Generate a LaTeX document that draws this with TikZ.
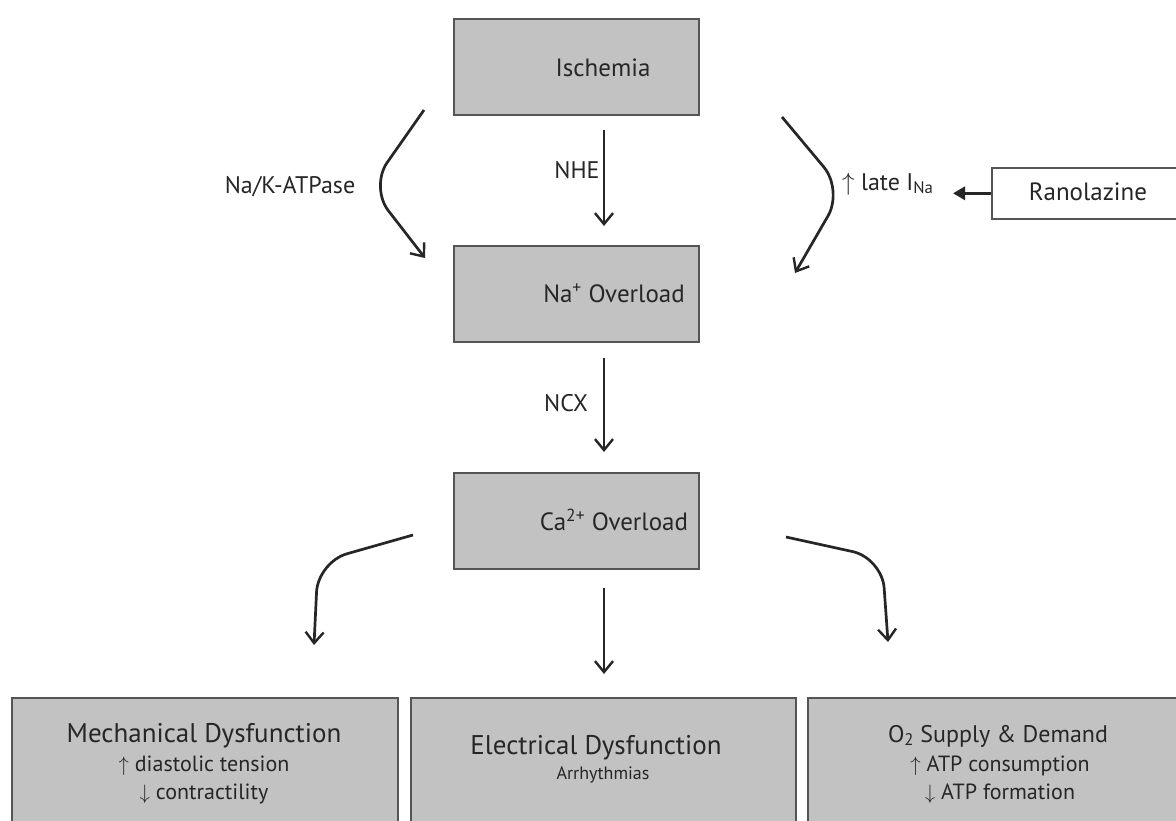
\documentclass[tikz,border=0pt]{standalone}
\usepackage{fontspec}
\setmainfont{PT Sans}
\usetikzlibrary{arrows.meta,calc}
\definecolor{boxfill}{HTML}{C2C2C2}
\definecolor{boxline}{HTML}{555555}
\definecolor{txt}{HTML}{262626}
\begin{document}
\begin{tikzpicture}[x=1pt,y=-1pt,
  gbox/.style={draw=boxline,fill=boxfill,line width=2pt,anchor=north west,inner sep=0pt},
  boxtxt/.style={text=txt,inner sep=0pt,font=\fontsize{25}{30}\selectfont},
  ttl/.style={text=txt,inner sep=0pt,anchor=base},
  lbl/.style={text=txt,font=\fontsize{24}{28}\selectfont},
  flow/.style={line width=2.7pt,draw=black!85,-{Straight Barb[length=11pt,width=18pt,line width=2.4pt]}},
  curvy/.style={flow,rounded corners=30pt}]
\useasboundingbox (0,0) rectangle (1176,821);
\clip (0,0) rectangle (1176,821);
\fill[white] (0,0) rectangle (1176,821);
% main boxes
\node[gbox,minimum width=245pt,minimum height=96pt] (isch) at (453,18) {};
\node[gbox,minimum width=245pt,minimum height=96pt] (na) at (453,245) {};
\node[gbox,minimum width=245pt,minimum height=96pt] (ca) at (453,472) {};
\node[boxtxt] (ischt) at (603,68) {Ischemia};
\node[boxtxt] (nat) at (614,293) {Na\textsuperscript{+} Overload};
\node[boxtxt] (cat) at (614,520) {Ca\textsuperscript{2+} Overload};
% ranolazine
\node[draw=boxline,fill=white,line width=1.6pt,anchor=north west,minimum width=200pt,minimum height=51pt,inner sep=0pt] (rano) at (991,167) {};
\node[boxtxt] (ranot) at (1088,192) {Ranolazine};
% bottom boxes
\node[gbox,minimum width=386pt,minimum height=135pt] (mech) at (11,697) {};
\node[gbox,minimum width=385pt,minimum height=135pt] (elec) at (410,697) {};
\node[gbox,minimum width=380pt,minimum height=135pt] (oxy) at (807,697) {};
\node[ttl,font=\fontsize{27}{30}\selectfont] (mech1) at (204,742) {Mechanical Dysfunction};
\node[ttl,font=\fontsize{22}{26}\selectfont] (mech2) at (204,771) {$\uparrow$ diastolic tension};
\node[ttl,font=\fontsize{22}{26}\selectfont] (mech3) at (204,799) {$\downarrow$ contractility};
\node[ttl,font=\fontsize{27}{30}\selectfont] (elec1) at (596,754) {Electrical Dysfunction};
\node[ttl,font=\fontsize{18}{22}\selectfont] (elec2) at (603,779) {Arrhythmias};
\node[ttl,font=\fontsize{24}{30}\selectfont] (oxy1) at (998,742) {O\textsubscript{2} Supply \& Demand};
\node[ttl,font=\fontsize{22}{26}\selectfont] (oxy2) at (1000,771) {$\uparrow$ ATP consumption};
\node[ttl,font=\fontsize{22}{26}\selectfont] (oxy3) at (1000,799) {$\downarrow$ ATP formation};
% labels
\node[lbl] (nhe) at (577,170) {NHE};
\node[lbl] (ncx) at (566,403) {NCX};
\node[lbl] (nak) at (290,187) {Na/K-ATPase};
\node[lbl,anchor=west,inner sep=0pt] (late) at (842,184) {$\uparrow$ late I\textsubscript{Na}};
% coordinates
\coordinate (nakS) at (424,110);
\coordinate (nakM) at (370,187);
\coordinate (nakE) at (425,258);
\coordinate (lateS) at (782,117);
\coordinate (lateM) at (843,190);
\coordinate (lateE) at (795,273);
\coordinate (clS) at (413,535);
\coordinate (clM) at (318,562);
\coordinate (clE) at (314,645);
\coordinate (crS) at (786,537);
\coordinate (crM) at (882,558);
\coordinate (crE) at (888,642);
\coordinate (nheS) at (604,130);
\coordinate (nheE) at (604,226);
\coordinate (ncxS) at (604,358);
\coordinate (ncxE) at (604,452);
\coordinate (cmS) at (604,588);
\coordinate (cmE) at (604,674);
% arrows
\draw[flow] (nheS) -- (nheE);
\draw[flow] (ncxS) -- (ncxE);
\draw[flow] (cmS) -- (cmE);
\draw[curvy] (nakS) -- (nakM) -- (nakE);
\draw[curvy] (lateS) -- (lateM) -- (lateE);
\draw[curvy] (clS) -- (clM) -- (clE);
\draw[curvy] (crS) -- (crM) -- (crE);
\draw[line width=3.2pt,draw=black!85,-{Triangle[length=12pt,width=13pt]}] (rano.west) -- ($(rano.west)+(-38,0)$);
\end{tikzpicture}
\end{document}
